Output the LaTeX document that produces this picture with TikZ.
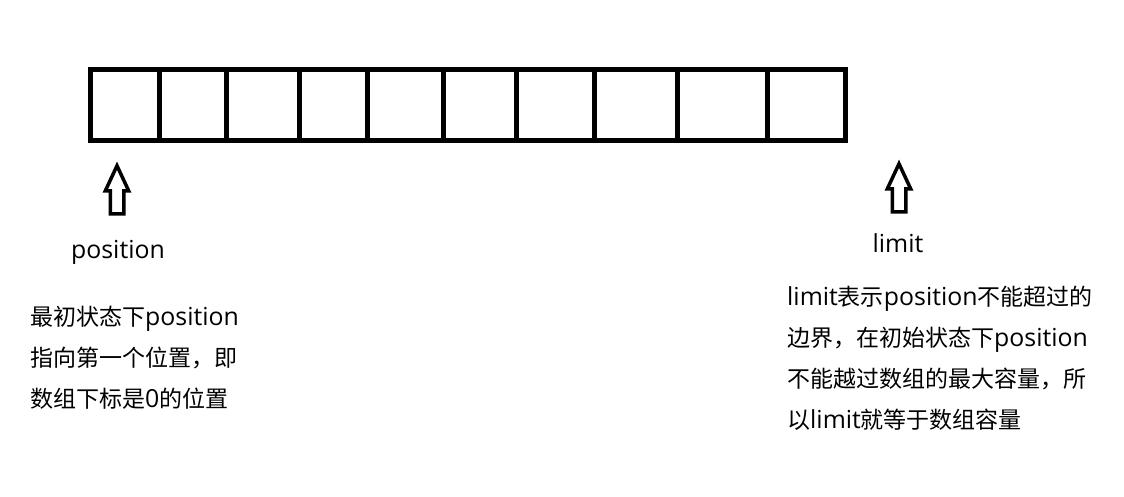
\documentclass[tikz,border=0pt]{standalone}
\usepackage{fontspec}
\setmainfont{Open Sans}[Scale=1.08]
\newfontfamily\cjk{Noto Sans CJK SC}
\usetikzlibrary{shapes.arrows,positioning}

\tikzset{
  cell/.style={draw,line width=5pt,minimum height=71,inner sep=0pt,outer sep=0pt},
  uparrow/.style={single arrow,draw,line width=3.5pt,shape border rotate=90,
    minimum height=48,minimum width=20,inner sep=5pt,
    single arrow head extend=5,single arrow tip angle=50},
  note/.style={font=\fontsize{23}{40.7}\selectfont,align=left,inner sep=0pt}
}

\begin{document}
\begin{tikzpicture}[x=1pt,y=-1pt]
\useasboundingbox (0,0) rectangle (1124,496);
% the array
\node[cell,minimum width=69,anchor=north west] (c1) at (90,69) {};
\foreach \w [count=\i from 2, remember=\i as \j (initially 1)] in {67,73,68,76,73,78,83,90,78}
  \node[cell,minimum width=\w,right=0pt of c\j] (c\i) {};

\node[uparrow] (posarrow) at (117,197) {};
\node[uparrow] (limarrow) at (899,195) {};

\node[note,anchor=base] (poslabel) at (118,258) {position};
\node[note,anchor=base] (limlabel) at (898,252) {limit};

% base of a multi-line note is its last line
\node[note,anchor=base west] (posnote) at (30,407)
  {{\cjk 最初状态下}position\\{\cjk 指向第一个位置，即}\\{\cjk 数组下标是}0{\cjk 的位置}};
\node[note,anchor=base west] (limnote) at (787,428)
  {limit{\cjk 表示}position{\cjk 不能超过的}\\{\cjk 边界，在初始状态下}position\\{\cjk 不能越过数组的最大容量，所}\\{\cjk 以}limit{\cjk 就等于数组容量}};
\end{tikzpicture}
\end{document}
